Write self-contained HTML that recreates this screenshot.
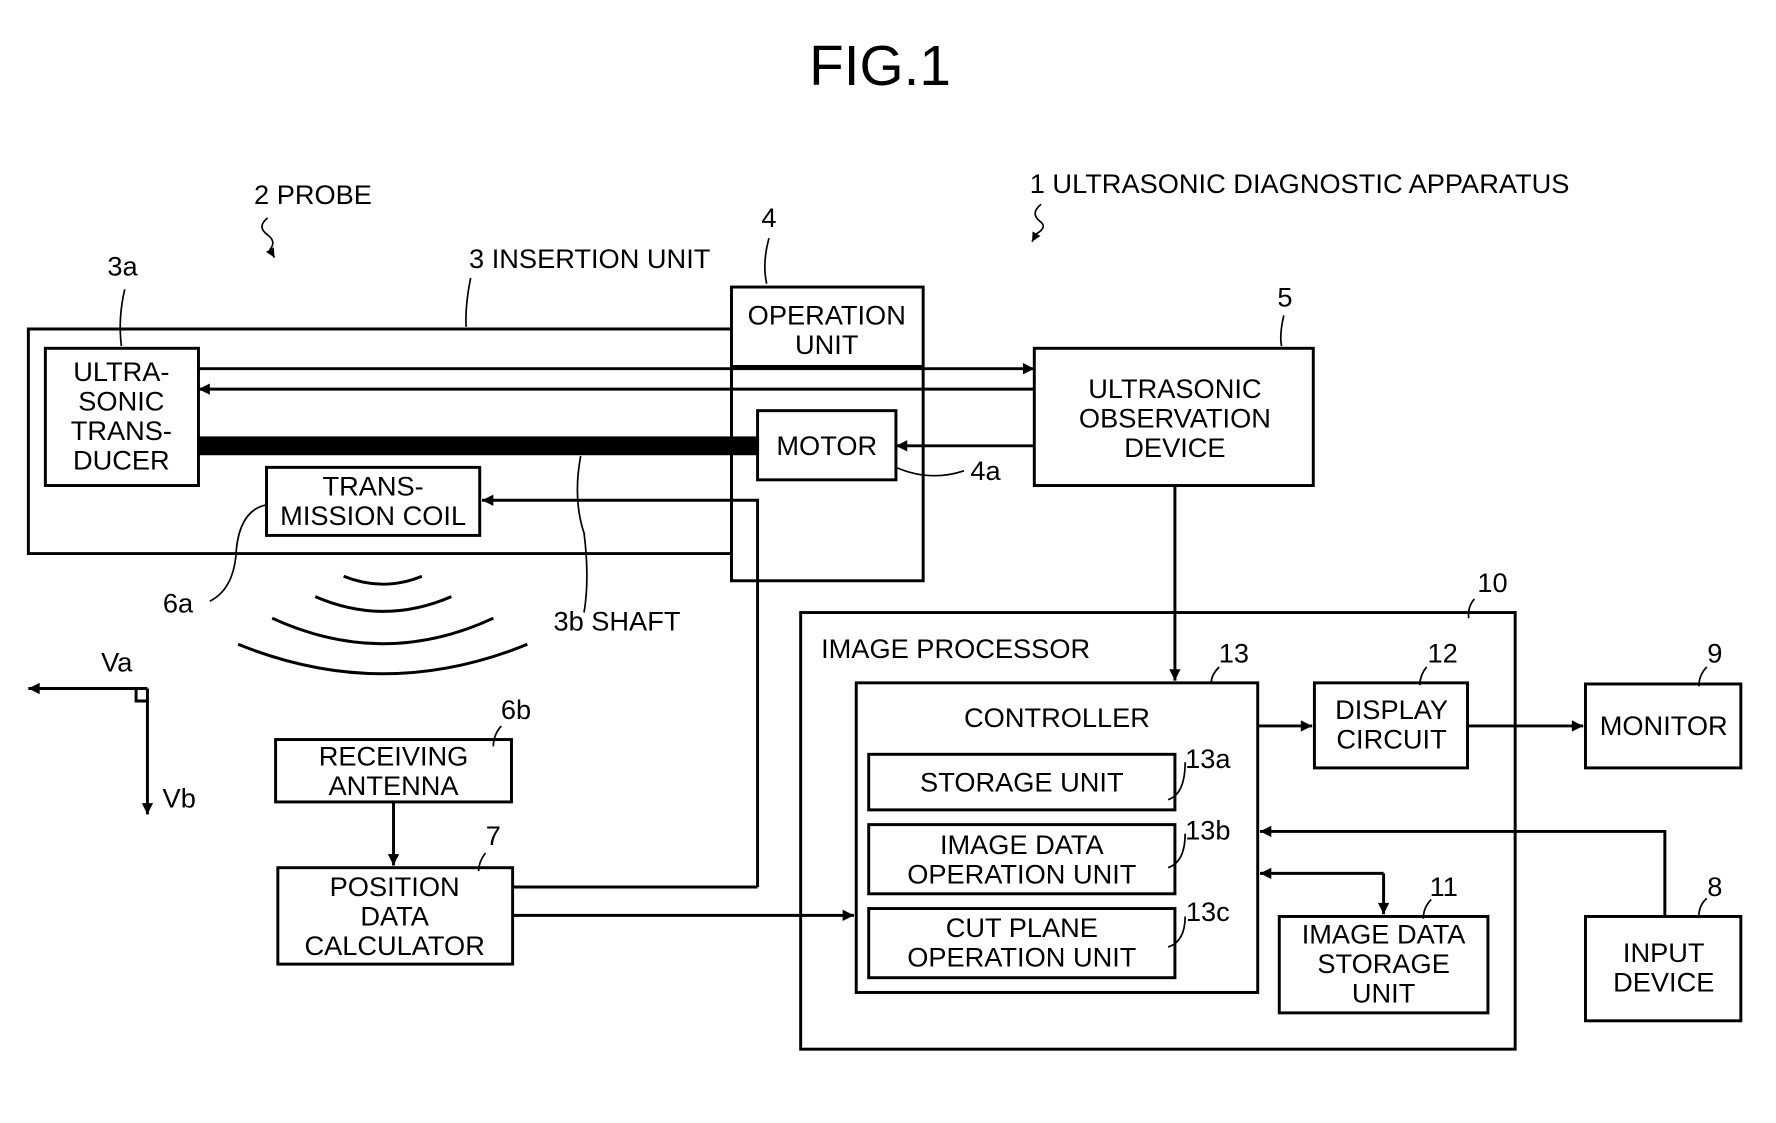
<!DOCTYPE html>
<html><head><meta charset="utf-8"><style>html,body{margin:0;padding:0;background:#fff}svg{display:block}text{font-family:"Liberation Sans",sans-serif;fill:#000}</style></head>
<body>
<svg width="1776" height="1123" viewBox="0 0 1566 990" xmlns="http://www.w3.org/2000/svg">
<defs><marker id="a" viewBox="0 0 10 10" refX="10" refY="5" markerWidth="14" markerHeight="10" markerUnits="userSpaceOnUse" orient="auto"><path d="M0,0 L10,5 L0,10 z" fill="#000"/></marker>
<marker id="s" viewBox="0 0 10 10" refX="10" refY="5" markerWidth="10" markerHeight="8" markerUnits="userSpaceOnUse" orient="auto"><path d="M0,0 L10,5 L0,10 z" fill="#000"/></marker></defs>
<g fill="none" stroke="#000" stroke-width="2.6">
<text x="776" y="75" font-size="50" text-anchor="middle" stroke="none">FIG.1</text>
<polyline points="645,290 25,290 25,488 645,488"/>
<rect x="645" y="253" width="169" height="259"/>
<line x1="645" y1="323" x2="814" y2="323"/>
<rect x="40" y="307" width="135" height="121"/>
<rect x="668" y="362" width="122" height="61"/>
<rect x="235" y="412" width="188" height="60"/>
<line x1="175" y1="325" x2="912" y2="325" marker-end="url(#a)"/>
<line x1="912" y1="343" x2="175" y2="343" marker-end="url(#a)"/>
<rect x="175" y="386" width="493" height="14" fill="#000"/>
<line x1="912" y1="393" x2="790" y2="393" marker-end="url(#a)"/>
<polyline points="668,782 668,441 425,441" marker-end="url(#a)"/>
<line x1="452" y1="782" x2="668" y2="782"/>
<rect x="912" y="307" width="246" height="121"/>
<line x1="1036" y1="428" x2="1036" y2="600" marker-end="url(#a)"/>
<rect x="706" y="540" width="630" height="385"/>
<rect x="755" y="602" width="354" height="273"/>
<rect x="766" y="665" width="270" height="49"/>
<rect x="766" y="727" width="270" height="61"/>
<rect x="766" y="801" width="270" height="61"/>
<rect x="1159" y="602" width="135" height="75"/>
<rect x="1398" y="603" width="137" height="74"/>
<rect x="1398" y="808" width="137" height="92"/>
<rect x="1128" y="808" width="184" height="85"/>
<line x1="1109" y1="640" x2="1157" y2="640" marker-end="url(#a)"/>
<line x1="1294" y1="640" x2="1396" y2="640" marker-end="url(#a)"/>
<polyline points="1468,808 1468,733 1111,733" marker-end="url(#a)"/>
<line x1="1220" y1="770" x2="1111" y2="770" marker-end="url(#a)"/>
<line x1="1220" y1="770" x2="1220" y2="806" marker-end="url(#a)"/>
<rect x="243" y="652" width="208" height="55"/>
<rect x="245" y="765" width="207" height="85"/>
<line x1="347" y1="707" x2="347" y2="763" marker-end="url(#a)"/>
<line x1="452" y1="807" x2="753" y2="807" marker-end="url(#a)"/>
<line x1="130" y1="607" x2="25" y2="607" marker-end="url(#a)"/>
<line x1="130" y1="607" x2="130" y2="718" marker-end="url(#a)"/>
<polyline points="120,607 120,618 130,618"/>
<path d="M303,508 Q338,522 372,508"/>
<path d="M278,526 Q338,552 398,526"/>
<path d="M240,545 Q338,590 435,545"/>
<path d="M210,568 Q338,620 465,568"/>
</g>
<g fill="none" stroke="#000" stroke-width="1.5">
<path d="M110,255 Q104,280 107,305"/>
<path d="M415,245 Q410,270 411,288"/>
<path d="M678,210 Q672,232 676,250"/>
<path d="M1132,278 Q1128,295 1130,305"/>
<path d="M790,412 Q820,425 850,415"/>
<path d="M235,445 Q210,450 208,490 Q205,520 185,530"/>
<path d="M512,402 Q505,440 515,470 Q520,510 515,540"/>
<path d="M1300,528 Q1294,535 1295,545"/>
<path d="M1075,588 Q1068,595 1068,602"/>
<path d="M1258,588 Q1252,595 1252,604"/>
<path d="M1505,588 Q1498,595 1498,605"/>
<path d="M1505,792 Q1498,798 1498,808"/>
<path d="M1262,793 Q1255,800 1255,810"/>
<path d="M1045,672 Q1045,700 1030,705"/>
<path d="M1045,735 Q1045,760 1030,765"/>
<path d="M1045,808 Q1045,830 1030,835"/>
<path d="M442,640 Q435,648 435,658"/>
<path d="M428,752 Q422,760 422,768"/>
<path d="M236,192 Q226,200 236,207 Q244,213 238,220 L242,227" marker-end="url(#s)"/>
<path d="M918,180 Q908,188 917,195 Q924,200 914,206 L910,213" marker-end="url(#s)"/>
</g>
<g font-size="24" text-anchor="middle">
<text x="276" y="180">2 PROBE</text>
<text x="108" y="243">3a</text>
<text x="520" y="236">3 INSERTION UNIT</text>
<text x="678" y="200">4</text>
<text x="908" y="170" text-anchor="start">1 ULTRASONIC DIAGNOSTIC APPARATUS</text>
<text x="1133" y="270">5</text>
<text x="729" y="286">OPERATION</text><text x="729" y="312">UNIT</text>
<text x="107" y="336">ULTRA-</text><text x="107" y="362">SONIC</text><text x="107" y="388">TRANS-</text><text x="107" y="414">DUCER</text>
<text x="729" y="401">MOTOR</text>
<text x="869" y="423">4a</text>
<text x="329" y="437">TRANS-</text><text x="329" y="463">MISSION COIL</text>
<text x="157" y="540">6a</text>
<text x="544" y="556">3b SHAFT</text>
<text x="103" y="592">Va</text><text x="158" y="712">Vb</text>
<text x="1036" y="351">ULTRASONIC</text><text x="1036" y="377">OBSERVATION</text><text x="1036" y="403">DEVICE</text>
<text x="724" y="580" text-anchor="start">IMAGE PROCESSOR</text>
<text x="1316" y="522">10</text>
<text x="1088" y="584">13</text>
<text x="932" y="641">CONTROLLER</text>
<text x="901" y="698">STORAGE UNIT</text>
<text x="901" y="753">IMAGE DATA</text><text x="901" y="779">OPERATION UNIT</text>
<text x="901" y="826">CUT PLANE</text><text x="901" y="852">OPERATION UNIT</text>
<text x="1065" y="677">13a</text><text x="1065" y="740">13b</text><text x="1065" y="812">13c</text>
<text x="1227" y="634">DISPLAY</text><text x="1227" y="660">CIRCUIT</text>
<text x="1272" y="584">12</text>
<text x="1467" y="648">MONITOR</text>
<text x="1512" y="584">9</text>
<text x="1467" y="848">INPUT</text><text x="1467" y="874">DEVICE</text>
<text x="1512" y="790">8</text>
<text x="1220" y="832">IMAGE DATA</text><text x="1220" y="858">STORAGE</text><text x="1220" y="884">UNIT</text>
<text x="1273" y="790">11</text>
<text x="347" y="675">RECEIVING</text><text x="347" y="701">ANTENNA</text>
<text x="455" y="634">6b</text>
<text x="348" y="790">POSITION</text><text x="348" y="816">DATA</text><text x="348" y="842">CALCULATOR</text>
<text x="435" y="745">7</text>
</g>
</svg>
</body></html>
